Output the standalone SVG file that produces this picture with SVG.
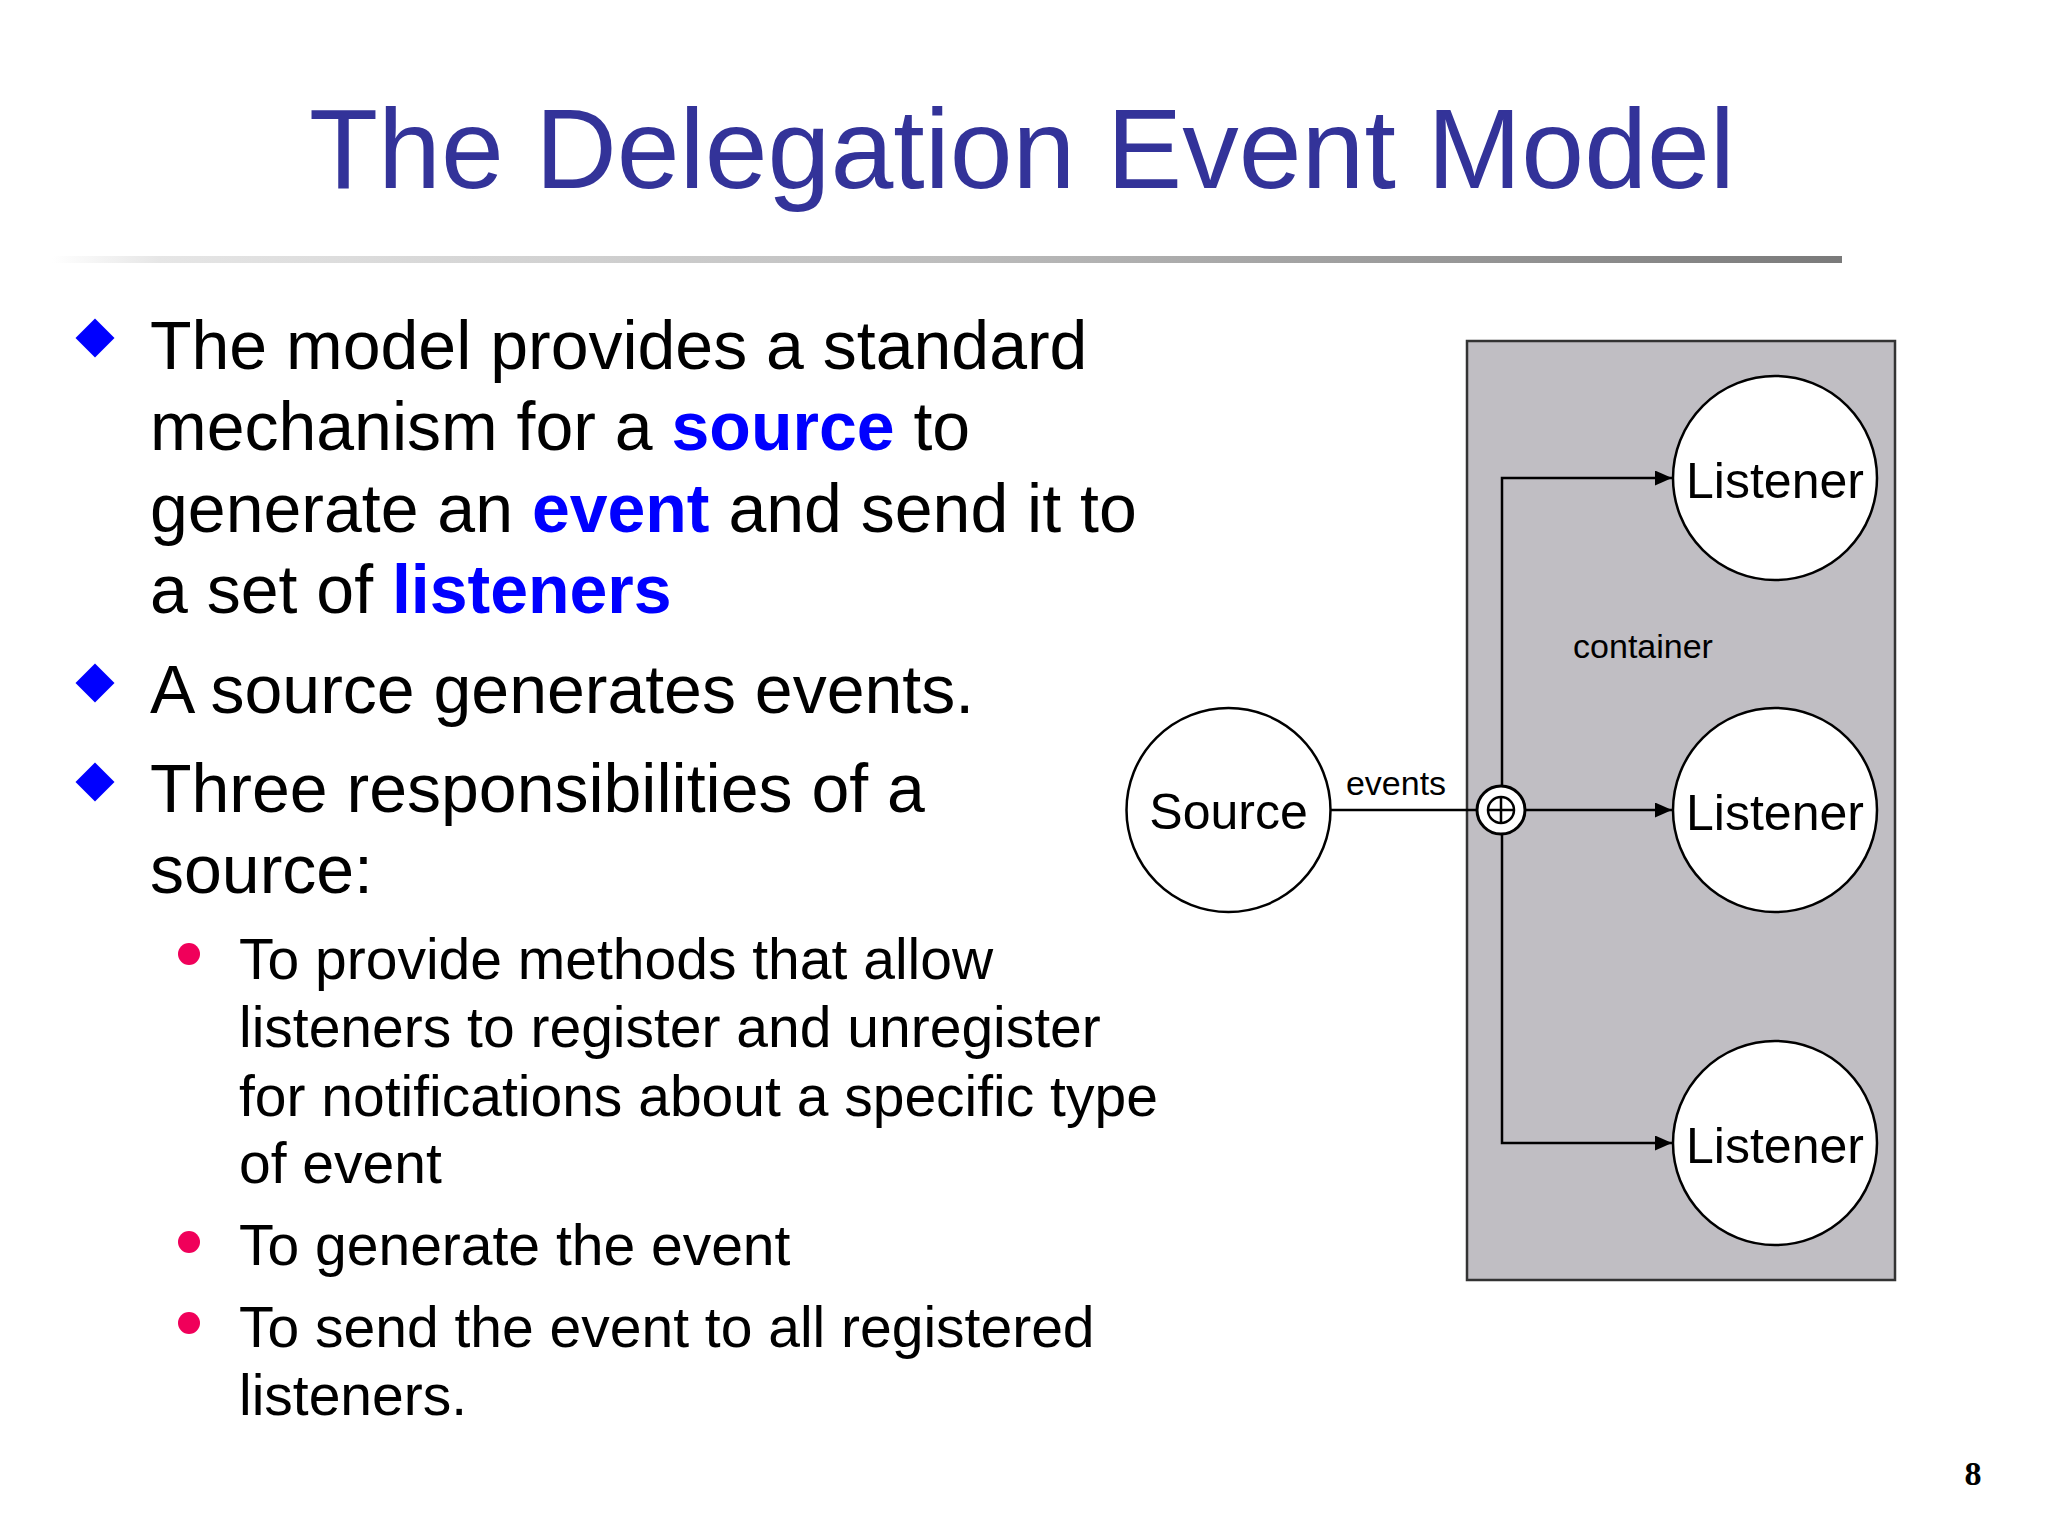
<svg xmlns="http://www.w3.org/2000/svg" width="2048" height="1536" viewBox="0 0 2048 1536">
<style>
.t{font-family:"Liberation Sans",Arial,sans-serif;fill:#000}
.h{font-size:68px}
.s{font-size:57px}
.b{font-weight:bold;fill:#0000FF}
.node{fill:#fff;stroke:#000;stroke-width:2.5}
.lbl{font-family:"Liberation Sans",Arial,sans-serif;font-size:50px;text-anchor:middle;fill:#000}
.sm{font-family:"Liberation Sans",Arial,sans-serif;font-size:34px;text-anchor:middle;fill:#000}
.ln{stroke:#000;stroke-width:2.5;fill:none}
.dia{fill:#0000FF}
.dot{fill:#F0005A}
</style>
<defs>
<linearGradient id="rule" x1="0" y1="0" x2="1" y2="0">
<stop offset="0" stop-color="#FFFFFF"/>
<stop offset="0.06" stop-color="#E6E6E6"/>
<stop offset="0.5" stop-color="#BDBDBD"/>
<stop offset="1" stop-color="#7A7A7A"/>
</linearGradient>
<marker id="arr" markerUnits="userSpaceOnUse" markerWidth="17" markerHeight="15" refX="17" refY="7.5" orient="auto">
<path d="M0,0 L17,7.5 L0,15 z" fill="#000"/>
</marker>
</defs>
<rect x="0" y="0" width="2048" height="1536" fill="#FFFFFF"/>
<text x="1022" y="188" text-anchor="middle" font-family="Liberation Sans, Arial, sans-serif" font-size="113" fill="#333399">The Delegation Event Model</text>
<rect x="52" y="256" width="1790" height="7" fill="url(#rule)"/>
<g id="bullets">
<path class="dia" d="M95,318.5 L114.5,338 L95,357.5 L75.5,338 z"/>
<path class="dia" d="M95,663.5 L114.5,683 L95,702.5 L75.5,683 z"/>
<path class="dia" d="M95,762.5 L114.5,782 L95,801.5 L75.5,782 z"/>
<circle class="dot" cx="189" cy="954" r="11"/>
<circle class="dot" cx="189" cy="1242" r="11"/>
<circle class="dot" cx="189" cy="1323" r="11"/>
</g>
<g id="body">
<text class="t h" x="150" y="369">The model provides a standard</text>
<text class="t h" x="150" y="450">mechanism for a <tspan class="b">source</tspan> to</text>
<text class="t h" x="150" y="532">generate an <tspan class="b">event</tspan> and send it to</text>
<text class="t h" x="150" y="613">a set of <tspan class="b">listeners</tspan></text>
<text class="t h" x="150" y="713">A source generates events.</text>
<text class="t h" x="150" y="812">Three responsibilities of a</text>
<text class="t h" x="150" y="893">source:</text>
<text class="t s" x="239" y="979">To provide methods that allow</text>
<text class="t s" x="239" y="1047">listeners to register and unregister</text>
<text class="t s" x="239" y="1116">for notifications about a specific type</text>
<text class="t s" x="239" y="1183">of event</text>
<text class="t s" x="239" y="1265">To generate the event</text>
<text class="t s" x="239" y="1347">To send the event to all registered</text>
<text class="t s" x="239" y="1415">listeners.</text>
</g>
<g id="container">
<rect x="1467" y="341" width="428" height="939" fill="#C0BEC3" stroke="#333" stroke-width="2.5"/>
<text class="sm" x="1643" y="658">container</text>
</g>
<g id="connectors">
<line class="ln" x1="1330" y1="810" x2="1477" y2="810"/>
<text class="sm" x="1396" y="795">events</text>
<polyline class="ln" points="1502,786 1502,478 1672,478" marker-end="url(#arr)"/>
<polyline class="ln" points="1502,834 1502,1143 1672,1143" marker-end="url(#arr)"/>
<line class="ln" x1="1525" y1="810" x2="1672" y2="810" marker-end="url(#arr)"/>
</g>
<g id="junction">
<circle cx="1501" cy="810" r="24" fill="#fff" stroke="#000" stroke-width="3"/>
<circle cx="1501" cy="810" r="13" fill="none" stroke="#000" stroke-width="2.5"/>
<line class="ln" x1="1488" y1="810" x2="1514" y2="810"/>
<line class="ln" x1="1501" y1="797" x2="1501" y2="823"/>
</g>
<g id="source">
<circle class="node" cx="1228.5" cy="810" r="102"/>
<text class="lbl" x="1228.5" y="829">Source</text>
</g>
<g id="listener1">
<circle class="node" cx="1775" cy="478" r="102"/>
<text class="lbl" x="1775" y="498">Listener</text>
</g>
<g id="listener2">
<circle class="node" cx="1775" cy="810" r="102"/>
<text class="lbl" x="1775" y="830">Listener</text>
</g>
<g id="listener3">
<circle class="node" cx="1775" cy="1143" r="102"/>
<text class="lbl" x="1775" y="1163">Listener</text>
</g>
<text x="1973" y="1485" text-anchor="middle" font-family="Liberation Serif, Times New Roman, serif" font-weight="bold" font-size="34" fill="#000">8</text>
</svg>
